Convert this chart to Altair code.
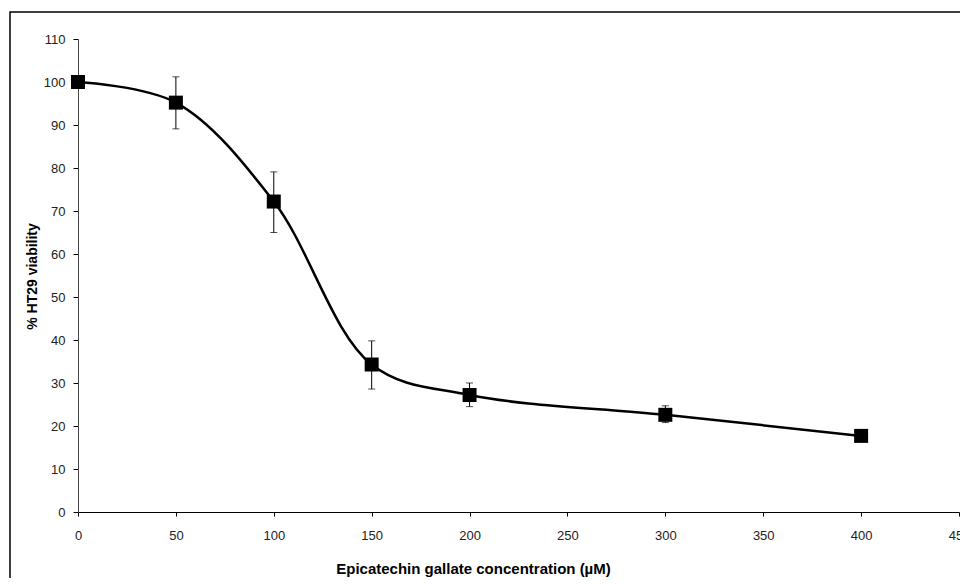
import altair as alt
import pandas as pd

conc = [0, 50, 100, 150, 200, 300, 400]
viability = [100.0, 95.2, 72.2, 34.3, 27.2, 22.6, 17.7]

err_conc = [50, 100, 150, 200, 300]
err_low = [89.1, 65.0, 28.6, 24.5, 20.8]
err_high = [101.2, 79.1, 39.8, 30.0, 24.7]

x_ticks = [0, 50, 100, 150, 200, 250, 300, 350, 400, 450]
y_ticks = [0, 10, 20, 30, 40, 50, 60, 70, 80, 90, 100, 110]

df = pd.DataFrame({"conc": conc, "viab": viability})
edf = pd.DataFrame({"conc": err_conc, "lo": err_low, "hi": err_high})

FONT = "Liberation Sans"

xscale = alt.Scale(domain=[0, 450], nice=False, zero=False)
yscale = alt.Scale(domain=[0, 110], nice=False)

xaxis = alt.Axis(
    title="Epicatechin gallate concentration (µM)",
    values=x_ticks, grid=False, domainColor="#000", domainWidth=1,
    tickColor="#000", tickSize=4, labelPadding=13, labelFont=FONT,
    labelFontSize=13, labelColor="#222", titleFont=FONT, titleFontSize=15,
    titleFontWeight="bold", titleColor="#000", titleX=395, titleY=56,
    titleAlign="center", titleBaseline="middle", labelFlush=False,
)
yaxis = alt.Axis(
    title="% HT29 viability",
    values=y_ticks, grid=False, domainColor="#444", domainWidth=1,
    tickColor="#000", tickSize=5, labelPadding=8, labelFont=FONT,
    labelFontSize=13, labelColor="#222", titleFont=FONT, titleFontSize=14,
    titleFontWeight="bold", titleColor="#000", titleX=-46, titleY=237,
    titleAlign="center", titleBaseline="middle", titleAngle=-90,
    labelFlush=False,
)

base = alt.Chart(df)

line = base.mark_line(interpolate="catmull-rom", color="black", strokeWidth=2.5).encode(
    x=alt.X("conc:Q", scale=xscale, axis=xaxis),
    y=alt.Y("viab:Q", scale=yscale, axis=yaxis),
)

points = base.mark_point(shape="square", filled=True, size=196, color="black", opacity=1).encode(
    x=alt.X("conc:Q", scale=xscale),
    y=alt.Y("viab:Q", scale=yscale),
)

ebase = alt.Chart(edf)
erule = ebase.mark_rule(color="black", strokeWidth=1).encode(
    x=alt.X("conc:Q", scale=xscale),
    y=alt.Y("lo:Q", scale=yscale),
    y2="hi:Q",
)
cap_lo = ebase.mark_tick(color="black", orient="horizontal", size=7, thickness=1).encode(
    x=alt.X("conc:Q", scale=xscale),
    y=alt.Y("lo:Q", scale=yscale),
)
cap_hi = ebase.mark_tick(color="black", orient="horizontal", size=7, thickness=1).encode(
    x=alt.X("conc:Q", scale=xscale),
    y=alt.Y("hi:Q", scale=yscale),
)

border = alt.Chart(pd.DataFrame({"b": [1]})).mark_rect(
    fill=None, stroke="black", strokeWidth=1.5, clip=False
).encode(
    x=alt.value(-68), x2=alt.value(920), y=alt.value(-27), y2=alt.value(560)
)

chart = alt.layer(border, erule, cap_lo, cap_hi, line, points).properties(
    width=881, height=473,
    autosize=alt.AutoSizeParams(type="none"),
    padding={"left": 70, "top": 31, "right": 1, "bottom": 66},
).configure_view(stroke=None)

chart.save("out.html", embed_options={"renderer": "svg", "actions": False})
